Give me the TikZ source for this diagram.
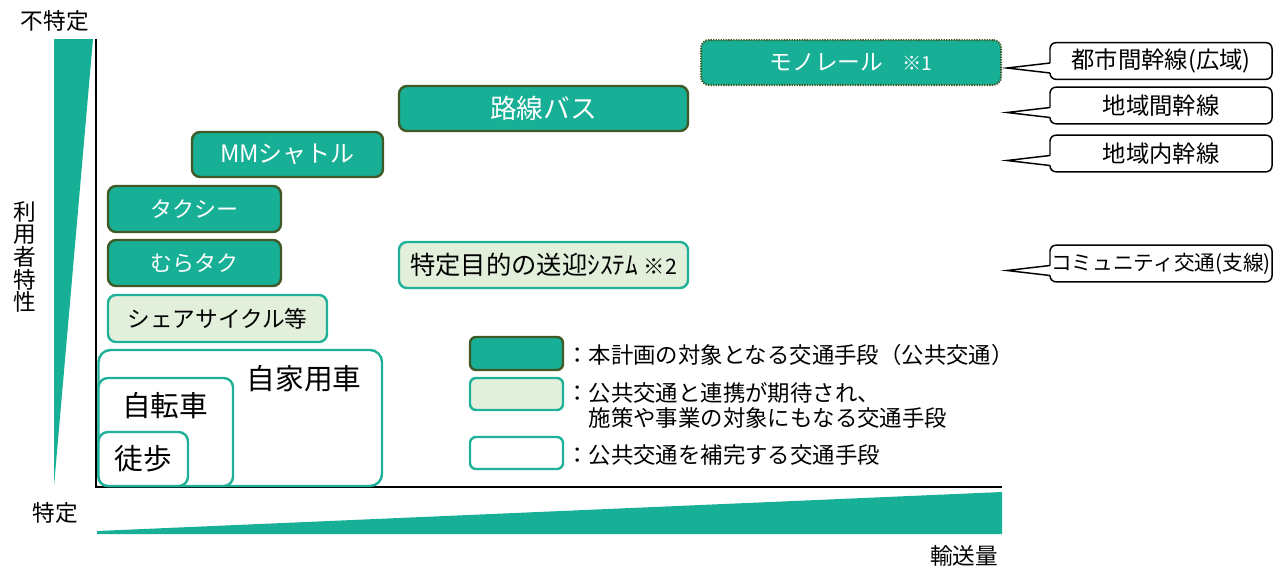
\documentclass[tikz,border=0pt]{standalone}
\usepackage{fontspec}
\setmainfont{Noto Sans CJK JP}
\usetikzlibrary{calc}
\definecolor{tealF}{RGB}{23,175,150}
\definecolor{darkB}{RGB}{63,90,38}
\definecolor{lightF}{RGB}{226,239,218}
\definecolor{tealB}{RGB}{30,176,152}
\newcommand\fsz[1]{\fontsize{#1}{#1}\selectfont}
\newcommand\callptr[1]{%
  \fill[white] ($(#1.west)+(1.6,2)$) -- ($(#1.west)+(-43,7)$) -- ($(#1.west)+(1.6,12)$) -- cycle;
  \draw[cline] ($(#1.west)+(0,2)$) -- ($(#1.west)+(-43,7)$) -- ($(#1.west)+(0,12)$);}
\begin{document}
\begin{tikzpicture}[x=0.75pt,y=-0.75pt,
  base/.style={rectangle, rounded corners=6pt, outer sep=0pt, inner sep=0pt, line width=1.8pt},
  mainbox/.style={base, draw=darkB, fill=tealF, text=white},
  linkbox/.style={base, draw=tealB, fill=lightF, text=black},
  supbox/.style={base, draw=tealB, fill=white, text=black},
  callbox/.style={rectangle, rounded corners=4.5pt, draw=black, fill=white, line width=1.1pt, outer sep=0pt, inner sep=0pt, minimum width=166.5pt, minimum height=27.5pt, font=\fsz{17.5pt}},
  lbl/.style={inner sep=0pt, font=\fsz{17pt}},
  legtxt/.style={inner sep=0pt, anchor=west, align=left, font=\fontsize{16.8pt}{18.75pt}\selectfont},
  cline/.style={line width=1.1pt, draw=black}
]
\useasboundingbox (0,0) rectangle (1284,569);

% wedges
\fill[tealF] (54,39) -- (93,39) -- (54,486) -- cycle;
\fill[tealF] (97,531) -- (1002,492) -- (1002,534) -- (97,534) -- cycle;

% axes
\draw[line width=1.5pt] (96,39) -- (96,487);
\draw[line width=2pt] (95,487) -- (1002,487);

% main transport boxes
\node[mainbox, dash pattern=on 1pt off 0.9pt, line width=1.5pt, minimum width=225pt, minimum height=33.75pt] (mono) at (851,62.5)
  {\fsz{17pt}モノレール\hspace{0.85em}{\fsz{14.5pt}※1}};
\node[mainbox, minimum width=216.75pt, minimum height=33.75pt, font=\fsz{20pt}] (bus) at (543.5,108.5) {路線バス};
\node[mainbox, minimum width=143.25pt, minimum height=33.75pt, font=\fsz{18pt}] (mm) at (287.5,154.5) {MMシャトル};
\node[mainbox, minimum width=129.75pt, minimum height=34.5pt, font=\fsz{16.5pt}] (taxi) at (194.5,209) {タクシー};
\node[mainbox, minimum width=129.75pt, minimum height=34.5pt, font=\fsz{16.5pt}] (mura) at (194.5,263) {むらタク};

% linked boxes
\node[linkbox, minimum width=164.25pt, minimum height=35.25pt, font=\fsz{17pt}] (share) at (217.5,318.5) {シェアサイクル等};
\node[linkbox, minimum width=216.75pt, minimum height=34.5pt, font=\fsz{19pt}] (sogei) at (543.5,265) {特定目的の送迎ｼｽﾃﾑ {\fsz{16pt}※2}};

% supplementary boxes
\node[supbox, rounded corners=9pt, minimum width=212.6pt, minimum height=102pt] (car) at (240.25,418) {};
\node[lbl, font=\fsz{21.5pt}] (cartxt) at (304,379) {自家用車};
\node[supbox, rounded corners=7pt, minimum width=100.9pt, minimum height=81pt] (bike) at (165.75,432) {};
\node[lbl, font=\fsz{21.5pt}] (biketxt) at (165,406) {自転車};
\node[supbox, rounded corners=7pt, minimum width=67.1pt, minimum height=40.5pt, font=\fsz{21.5pt}] (walk) at (143.25,459) {徒歩};

% legend
\node[mainbox, rounded corners=4.5pt, minimum width=69.75pt, minimum height=24.75pt] (leg1) at (516.5,353.5) {};
\node[linkbox, rounded corners=4.5pt, minimum width=69.75pt, minimum height=24pt] (leg2) at (516.5,394) {};
\node[supbox, rounded corners=4.5pt, minimum width=69.75pt, minimum height=24pt] (leg3) at (516.5,453) {};
\node[legtxt] (lt1) at (566,355) {：本計画の対象となる交通手段（公共交通）};
\node[legtxt] (lt2) at (566,405.5) {：公共交通と連携が期待され、\\　施策や事業の対象にもなる交通手段};
\node[legtxt] (lt3) at (566,455) {：公共交通を補完する交通手段};

% callouts
\node[callbox] (c1) at (1161,61) {都市間幹線(広域)};
\node[callbox] (c2) at (1161,105.5) {地域間幹線};
\node[callbox] (c3) at (1161,153.5) {地域内幹線};
\node[callbox, font=\fsz{15.5pt}] (c4) at (1161,263.5) {コミュニティ交通(支線)};
\callptr{c1}
\callptr{c2}
\callptr{c3}
\callptr{c4}

% axis labels
\node[lbl] (top) at (55,21) {不特定};
\node[lbl, align=center, font=\fontsize{17pt}{17pt}\selectfont] (vl) at (25,257) {利\\用\\者\\特\\性};
\node[lbl] (bot) at (55,513) {特定};
\node[lbl] (qty) at (964,556) {輸送量};
\end{tikzpicture}
\end{document}
